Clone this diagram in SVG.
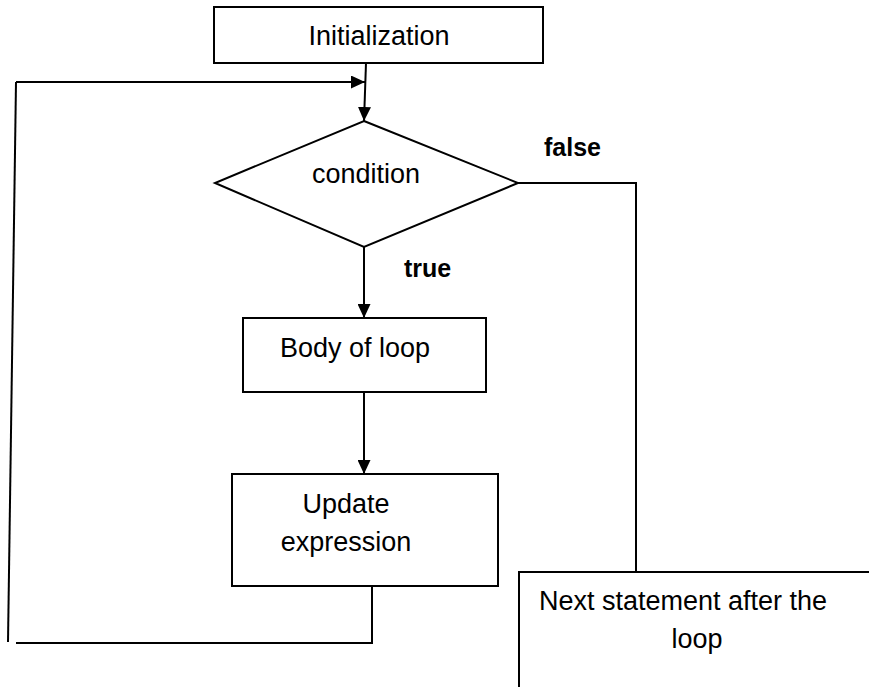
<svg xmlns="http://www.w3.org/2000/svg" width="869" height="687" viewBox="0 0 869 687">
<defs>
<style>
.box{fill:#fff;stroke:#000;stroke-width:2}
.ln{fill:none;stroke:#000;stroke-width:2}
.t{font-family:"Liberation Sans",Arial,sans-serif;font-size:27px;fill:#000;text-anchor:middle}
.b{font-family:"Liberation Sans",Arial,sans-serif;font-size:25px;font-weight:bold;fill:#000}
</style>
<marker id="ah" markerWidth="14" markerHeight="13" refX="14" refY="6.5" orient="auto" markerUnits="userSpaceOnUse">
<path d="M0,0 L14,6.5 L0,13 Z" fill="#000"/>
</marker>
</defs>
<rect width="869" height="687" fill="#fff"/>
<g id="connectors">
<line class="ln" x1="366" y1="63" x2="364" y2="121" marker-end="url(#ah)"/>
<polyline class="ln" points="372,586 372,643 16,643"/>
<line class="ln" x1="8" y1="642" x2="16" y2="82"/>
<line class="ln" x1="16" y1="82" x2="365" y2="82" marker-end="url(#ah)"/>
<line class="ln" x1="364" y1="247" x2="364" y2="318" marker-end="url(#ah)"/>
<line class="ln" x1="364" y1="392" x2="364" y2="474" marker-end="url(#ah)"/>
<polyline class="ln" points="518,183 636,183 636,572"/>
<text class="b" x="544" y="156">false</text>
<text class="b" x="404" y="277">true</text>
</g>
<g id="init">
<rect class="box" x="214" y="7" width="329" height="56"/>
<text class="t" x="379" y="45">Initialization</text>
</g>
<g id="condition">
<polygon class="box" points="364,121 518,183 364,247 215,183"/>
<text class="t" x="366" y="183">condition</text>
</g>
<g id="body">
<rect class="box" x="243" y="318" width="243" height="74"/>
<text class="t" x="355" y="357">Body of loop</text>
</g>
<g id="update">
<rect class="box" x="232" y="474" width="266" height="112"/>
<text class="t" x="346" y="513">Update</text>
<text class="t" x="346" y="551">expression</text>
</g>
<g id="next">
<rect class="box" x="519" y="572" width="400" height="200"/>
<text class="t" x="683" y="610">Next statement after the</text>
<text class="t" x="697" y="648">loop</text>
</g>
</svg>
